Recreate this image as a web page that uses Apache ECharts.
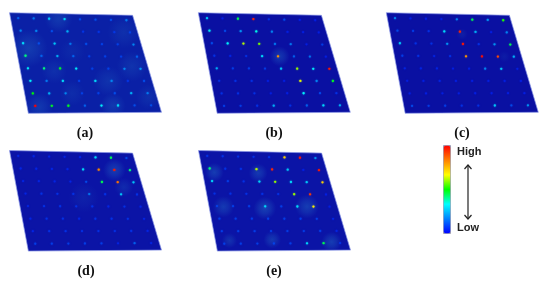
<!DOCTYPE html>
<html>
<head>
<meta charset="utf-8">
<style>html,body{margin:0;padding:0;background:#fff}#chart{width:550px;height:285px}</style>
<script src="https://cdn.jsdelivr.net/npm/echarts@6/dist/echarts.min.js"></script>
</head>
<body>
<div id="chart"></div>
<script>
// intensity at each 8x8 spot, top row first (0 = low, 1 = high)
var valuesA = [
    [.15,.18,.28,.30,.12,.12,.12,.18],
    [.20,.20,.12,.25,.08,.08,.08,.10],
    [.30,.12,.28,.18,.12,.10,.10,.20],
    [.42,.15,.25,.15,.10,.10,.10,.15],
    [.32,.42,.48,.32,.10,.10,.20,.22],
    [.33,.18,.30,.10,.30,.20,.08,.12],
    [.50,.25,.20,.10,.10,.12,.25,.18],
    [1.0,.48,.48,.15,.33,.30,.12,.12]
];
var valuesB = [
    [.28,.05,.45,.95,.08,.12,.05,.05],
    [.32,.12,.22,.35,.20,.05,.05,.05],
    [.12,.33,.62,.58,.18,.18,.05,.10],
    [.08,.06,.08,.30,.80,.15,.18,.05],
    [.25,.10,.10,.10,.28,.60,.32,.97],
    [.08,.08,.08,.05,.05,.65,.20,.48],
    [.08,.08,.08,.05,.05,.33,.12,.08],
    [.10,.10,.08,.25,.08,.15,.30,.25]
];
var valuesC = [
    [.20,.05,.05,.05,.20,.45,.22,.52],
    [.12,.10,.08,.30,.95,.25,.05,.20],
    [.28,.08,.08,.22,.97,.08,.22,.45],
    [.10,.08,.06,.08,.80,.98,.90,.25],
    [.06,.06,.06,.05,.05,.20,.28,.05],
    [.05,.05,.06,.05,.05,.05,.05,.05],
    [.05,.05,.05,.05,.05,.05,.05,.05],
    [.12,.10,.10,.08,.08,.28,.12,.22]
];
var valuesD = [
    [.06,.06,.06,.06,.06,.30,.45,.12],
    [.06,.06,.06,.06,.30,.82,.97,.42],
    [.06,.06,.06,.06,.12,.45,.85,.28],
    [.06,.08,.08,.08,.18,.08,.28,.08],
    [.06,.08,.08,.08,.08,.06,.08,.06],
    [.06,.08,.08,.06,.08,.08,.08,.06],
    [.06,.08,.08,.08,.08,.08,.08,.06],
    [.10,.10,.10,.10,.10,.06,.15,.06]
];
var valuesE = [
    [.08,.08,.08,.08,.08,.72,.97,.22],
    [.42,.08,.08,.62,.95,.28,.05,.97],
    [.30,.10,.08,.30,.60,.30,.28,.72],
    [.08,.08,.08,.08,.08,.60,.92,.05],
    [.10,.10,.10,.30,.10,.30,.68,.05],
    [.10,.10,.10,.10,.10,.10,.10,.06],
    [.10,.10,.10,.10,.10,.10,.10,.06],
    [.10,.10,.10,.10,.10,.30,.45,.08]
];

// lighter patches: col, row, width in cols, height in rows, strength
var hazeA = [
    [2.6,0,3.4,2.2,.4],[6.6,1,3.6,2.6,.25],[.3,2.4,3,3,.45],[1.6,4.2,6,2,.25],
    [6.5,3.8,4,2.4,.3],[4.8,5,3.8,2.4,.3],[.2,7.1,3.4,2.2,.4],[4.7,7,3.6,2,.4],
    [2.4,6,3.2,2,.2],[7,6.3,3.4,2,.25],[3,2.6,3,2,.15]
];
var hazeB = [[4.1,3,1.7,1.6,.5]];
var hazeC = [[4.1,1.2,1,.9,.2],[6.4,3,.9,.9,.15]];
var hazeD = [[6,1,2.2,1.8,.55],[6.3,2.4,2,1.5,.3],[3.6,3.3,3,2.4,.18]];
var hazeE = [
    [.25,1.3,2.2,1.5,.55],[3.05,1.3,2.2,1.5,.5],[.4,4.05,2,1.7,.5],[2.95,4.15,2.2,1.8,.6],
    [5.6,4,2.1,1.9,.55],[.35,6.75,1.7,1.2,.4],[2.95,6.7,2.1,1.4,.5],[6.5,6.9,2.1,1.6,.55]
];

var panelLabels = ['(a)', '(b)', '(c)', '(d)', '(e)'];
var panelValues = [valuesA, valuesB, valuesC, valuesD, valuesE];
var panelHaze = [hazeA, hazeB, hazeC, hazeD, hazeE];
var panelBase = ['#0a20a6', '#0a10a2', '#0a10a2', '#0b14a6', '#0b14a6'];
var panelBox = [[9.5, 12.7], [198.3, 12.7], [386.3, 12.7], [9.5, 150.5], [198.5, 150.5]];
var labelPos = [[85, 133], [274, 133], [462, 133], [86, 271], [274, 271]];

var scaleStops = ['#0000ff', '#0080ff', '#00ffff', '#00ff00', '#ffff00', '#ff8000', '#ff0000'];
var scaleText = ['High', 'Low'];

var BOX_W = 152, BOX_H = 100.6;
// plate corners inside its box: the plate is seen at an angle
var TL = [0, 0], TR = [.81, .026], BR = [1, .99], BL = [.124, 1];

function warp(u, v) {
    var lx = TL[0] + (BL[0] - TL[0]) * v, ly = TL[1] + (BL[1] - TL[1]) * v;
    var rx = TR[0] + (BR[0] - TR[0]) * v, ry = TR[1] + (BR[1] - TR[1]) * v;
    return [lx + (rx - lx) * u, ly + (ry - ly) * u];
}
function spot(col, row) {
    return warp((col + .5) / 8, (row + .42) / 8);
}
function platePoints(api) {
    return [TL, TR, BR, BL].map(function(p) {
        return api.coord(p);
    });
}

function renderPlate(base) {
    return function(params, api) {
        return {
            type: 'polygon',
            shape: { points: platePoints(api) },
            style: { fill: base, stroke: '#8c9ae6', lineWidth: .7 }
        };
    };
}
function renderHaze(params, api) {
    var c = api.coord(spot(api.value(0), api.value(1)));
    var rx = api.value(2) * BOX_W / 16, ry = api.value(3) * BOX_H / 16;
    var k = api.value(4);
    return {
        type: 'ellipse',
        shape: { cx: c[0], cy: c[1], rx: rx, ry: ry },
        style: {
            fill: new echarts.graphic.RadialGradient(.5, .5, .5, [
                { offset: 0, color: 'rgba(30,95,190,' + k + ')' },
                { offset: .5, color: 'rgba(30,90,190,' + k * .6 + ')' },
                { offset: 1, color: 'rgba(30,85,190,0)' }
            ])
        },
        clipPath: { type: 'polygon', shape: { points: platePoints(api) } }
    };
}
function renderSpot(params, api) {
    var c = api.coord(spot(api.value(0), api.value(1)));
    var color = api.visual('color');
    // faint spots hardly stand out from the plate
    var alpha = Math.min(.9, .42 + api.value(2) * 1.4);
    return {
        type: 'circle',
        shape: { cx: c[0], cy: c[1], r: 1.15 },
        style: { fill: color, shadowBlur: 1.5, shadowColor: color, opacity: alpha }
    };
}

var grid = [], xAxis = [], yAxis = [], series = [], spotSeries = [], graphic = [];
panelValues.forEach(function(values, i) {
    grid.push({ left: panelBox[i][0], top: panelBox[i][1], width: BOX_W, height: BOX_H });
    xAxis.push({ gridIndex: i, type: 'value', min: 0, max: 1, show: false });
    yAxis.push({ gridIndex: i, type: 'value', min: 0, max: 1, inverse: true, show: false });

    var cells = [];
    values.forEach(function(rowValues, row) {
        rowValues.forEach(function(v, col) {
            cells.push([col, row, v]);
        });
    });
    series.push({
        type: 'custom', xAxisIndex: i, yAxisIndex: i, silent: true,
        renderItem: renderPlate(panelBase[i]), data: [[0, 0]], clip: false
    });
    series.push({
        type: 'custom', xAxisIndex: i, yAxisIndex: i, silent: true,
        renderItem: renderHaze, data: panelHaze[i], clip: false
    });
    spotSeries.push(series.length);
    series.push({
        type: 'custom', xAxisIndex: i, yAxisIndex: i, silent: true,
        renderItem: renderSpot, data: cells, clip: false
    });
    graphic.push({
        type: 'text', x: labelPos[i][0], y: labelPos[i][1],
        style: {
            text: panelLabels[i], fill: '#111', align: 'center', verticalAlign: 'middle',
            fontFamily: 'Liberation Serif', fontWeight: 'bold', fontSize: 14
        }
    });
});

// High / Low text and the double arrow next to the colour bar
function scaleLabel(text, y) {
    return {
        type: 'text', x: 457, y: y,
        style: {
            text: text, fill: '#222', verticalAlign: 'middle',
            fontFamily: 'Liberation Sans', fontWeight: 'bold', fontSize: 11
        }
    };
}
graphic.push(scaleLabel(scaleText[0], 152));
graphic.push(scaleLabel(scaleText[1], 228));
graphic.push({ type: 'line', shape: { x1: 468, y1: 165, x2: 468, y2: 219 }, style: { stroke: '#222', lineWidth: 1.2 } });
graphic.push({ type: 'polyline', shape: { points: [[464.5, 169], [468, 165], [471.5, 169]] }, style: { stroke: '#222', fill: null, lineWidth: 1.2 } });
graphic.push({ type: 'polyline', shape: { points: [[464.5, 215], [468, 219], [471.5, 215]] }, style: { stroke: '#222', fill: null, lineWidth: 1.2 } });

var chart = echarts.init(document.getElementById('chart'));
chart.setOption({
    animation: false,
    backgroundColor: '#fff',
    grid: grid,
    xAxis: xAxis,
    yAxis: yAxis,
    visualMap: {
        type: 'continuous',
        seriesIndex: spotSeries,
        dimension: 2,
        min: 0,
        max: 1,
        left: 443,
        top: 145,
        itemWidth: 7,
        itemHeight: 88,
        padding: 0,
        borderColor: '#9a9ab4',
        borderWidth: 1,
        calculable: false,
        hoverLink: false,
        inRange: { color: scaleStops }
    },
    series: series,
    graphic: graphic
});
</script>
</body>
</html>
